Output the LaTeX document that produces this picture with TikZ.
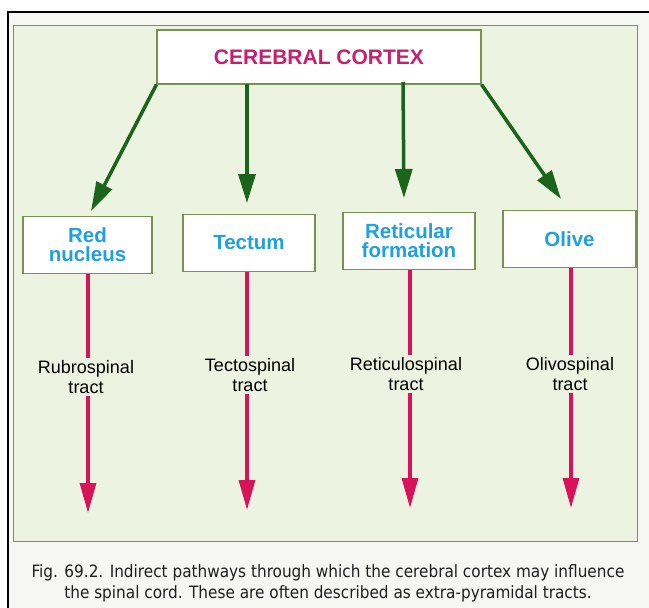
\documentclass[tikz,border=0pt]{standalone}
\usepackage{fontspec}
\setmainfont{Liberation Sans}
\newfontfamily\capfont{DejaVu Sans Condensed}
\usetikzlibrary{arrows.meta,calc}
\definecolor{gline}{RGB}{28,100,28}
\definecolor{boxedge}{RGB}{120,145,80}
\definecolor{cortexc}{RGB}{200,30,110}
\definecolor{boxtxt}{RGB}{30,160,225}
\definecolor{rline}{RGB}{215,20,90}
\definecolor{panel}{RGB}{236,243,224}
\definecolor{outer}{RGB}{246,247,242}
\tikzset{
  topbox/.style={draw=boxedge,line width=1.2pt,fill=white,minimum width=324pt,minimum height=54pt,inner sep=0pt,
     font=\fontsize{21}{21}\selectfont\bfseries,text=cortexc},
  subbox/.style={draw=boxedge,line width=1.2pt,fill=white,minimum height=57pt,inner sep=0pt,align=center,
     font=\fontsize{20.5}{19}\selectfont\bfseries,text=boxtxt},
  tractlbl/.style={align=center,inner sep=2pt,font=\fontsize{18}{19.5}\selectfont},
  garrow/.style={draw=gline,line width=3.5pt,-{Triangle[width=17pt,length=29pt]},fill=gline},
  rline/.style={draw=rline,line width=3.2pt},
  rarrow/.style={draw=rline,line width=3.2pt,-{Triangle[width=16pt,length=30pt]}},
}
\begin{document}
\begin{tikzpicture}[x=1pt,y=-1pt]
\useasboundingbox (0,0) rectangle (649,608);
\fill[white] (0,0) rectangle (649,608);
\fill[outer] (8,12) rectangle (649,608);
\fill[panel] (13,25) rectangle (637,541);
\draw[boxedge,line width=1pt] (13,25) rectangle (637,541);
\draw[black,line width=2.2pt] (8,608) -- (8,12) -- (649,12);
% boxes
\node[topbox] (cortex) at (319,57) {CEREBRAL CORTEX};
\node[subbox,minimum width=129pt] (red) at (87.5,245) {Red\\nucleus};
\node[subbox,minimum width=132pt] (tectum) at (249,243) {Tectum};
\node[subbox,minimum width=132pt] (retic) at (409,241) {Reticular\\formation};
\node[subbox,minimum width=133pt] (olive) at (569.5,239) {Olive};
% green arrows
\coordinate (s2) at (247,84);
\coordinate (s3) at (403,82);
\coordinate (e1) at (91,211);
\coordinate (e2) at (247,203);
\coordinate (e3) at (404,198);
\coordinate (e4) at (561,199);
\draw[garrow] (cortex.south west) -- (e1);
\draw[garrow] (s2) -- (e2);
\draw[garrow] (s3) -- (e3);
\draw[garrow] (cortex.south east) -- (e4);
% tract labels
\node[tractlbl] (l1) at (86,377) {Rubrospinal\\tract};
\node[tractlbl] (l2) at (250,375) {Tectospinal\\tract};
\node[tractlbl] (l3) at (406,374) {Reticulospinal\\tract};
\node[tractlbl] (l4) at (570,374) {Olivospinal\\tract};
\coordinate (t1) at (88,513);
\coordinate (t2) at (247,510);
\coordinate (t3) at (410,508);
\coordinate (t4) at (571,508);
\draw[rline] (red.south -| t1) -- (l1.north -| t1);
\draw[rline] (tectum.south -| t2) -- (l2.north -| t2);
\draw[rline] (retic.south -| t3) -- (l3.north -| t3);
\draw[rline] (olive.south -| t4) -- (l4.north -| t4);
\draw[rarrow] (l1.south -| t1) -- (t1);
\draw[rarrow] (l2.south -| t2) -- (t2);
\draw[rarrow] (l3.south -| t3) -- (t3);
\draw[rarrow] (l4.south -| t4) -- (t4);
% caption
\node[align=center,font=\capfont\fontsize{17}{21}\selectfont,text={rgb,255:red,30;green,30;blue,30}] (cap) at (328,583)
  {Fig. 69.2. Indirect pathways through which the cerebral cortex may influence\\
   the spinal cord. These are often described as extra-pyramidal tracts.};
\end{tikzpicture}
\end{document}
